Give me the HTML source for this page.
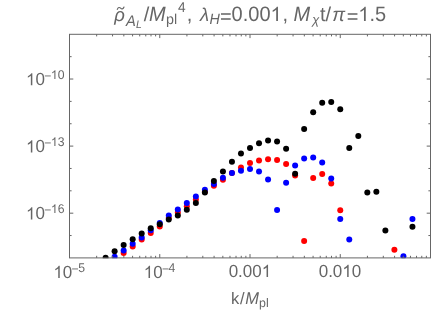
<!DOCTYPE html>
<html><head><meta charset="utf-8"><title>plot</title>
<style>
html,body{margin:0;padding:0;background:#fff;}
body{width:436px;height:312px;overflow:hidden;font-family:"Liberation Sans",sans-serif;}
svg{display:block;will-change:transform;}
svg text{font-family:"Liberation Sans",sans-serif;fill:#666666;text-rendering:geometricPrecision;}
</style></head><body>
<svg width="436" height="312" viewBox="0 0 436 312">
<rect width="436" height="312" fill="#ffffff"/>
<defs><clipPath id="cp"><rect x="69.50" y="34.30" width="361.00" height="223.90"/></clipPath></defs>
<g clip-path="url(#cp)">
<g fill="#ff0000"><circle cx="123.65" cy="253.10" r="3.00"/><circle cx="132.68" cy="246.60" r="3.00"/><circle cx="141.70" cy="239.60" r="3.00"/><circle cx="150.73" cy="232.90" r="3.00"/><circle cx="159.75" cy="226.50" r="3.00"/><circle cx="168.78" cy="217.90" r="3.00"/><circle cx="177.80" cy="212.40" r="3.00"/><circle cx="186.82" cy="206.30" r="3.00"/><circle cx="195.85" cy="199.50" r="3.00"/><circle cx="204.88" cy="191.70" r="3.00"/><circle cx="213.90" cy="185.70" r="3.00"/><circle cx="222.93" cy="179.70" r="3.00"/><circle cx="231.95" cy="172.90" r="3.00"/><circle cx="240.97" cy="167.50" r="3.00"/><circle cx="250.00" cy="163.00" r="3.00"/><circle cx="259.02" cy="160.60" r="3.00"/><circle cx="268.05" cy="159.20" r="3.00"/><circle cx="277.08" cy="160.00" r="3.00"/><circle cx="286.10" cy="164.00" r="3.00"/><circle cx="295.12" cy="175.50" r="3.00"/><circle cx="304.15" cy="240.90" r="3.00"/><circle cx="313.18" cy="177.90" r="3.00"/><circle cx="322.20" cy="174.00" r="3.00"/><circle cx="331.23" cy="183.50" r="3.00"/><circle cx="340.25" cy="210.20" r="3.00"/><circle cx="394.40" cy="249.70" r="3.00"/></g>
<g fill="#0000ff"><circle cx="114.62" cy="256.80" r="3.00"/><circle cx="123.65" cy="250.50" r="3.00"/><circle cx="132.68" cy="243.70" r="3.00"/><circle cx="141.70" cy="237.40" r="3.00"/><circle cx="150.73" cy="230.20" r="3.00"/><circle cx="159.75" cy="222.90" r="3.00"/><circle cx="168.78" cy="215.60" r="3.00"/><circle cx="177.80" cy="209.60" r="3.00"/><circle cx="186.82" cy="203.00" r="3.00"/><circle cx="195.85" cy="196.60" r="3.00"/><circle cx="204.88" cy="189.80" r="3.00"/><circle cx="213.90" cy="183.90" r="3.00"/><circle cx="222.93" cy="177.80" r="3.00"/><circle cx="231.95" cy="173.00" r="3.00"/><circle cx="240.97" cy="170.70" r="3.00"/><circle cx="250.00" cy="169.10" r="3.00"/><circle cx="259.02" cy="171.40" r="3.00"/><circle cx="268.05" cy="179.40" r="3.00"/><circle cx="277.08" cy="210.10" r="3.00"/><circle cx="286.10" cy="182.80" r="3.00"/><circle cx="295.12" cy="165.60" r="3.00"/><circle cx="304.15" cy="158.50" r="3.00"/><circle cx="313.18" cy="157.60" r="3.00"/><circle cx="322.20" cy="162.40" r="3.00"/><circle cx="331.23" cy="178.60" r="3.00"/><circle cx="340.25" cy="219.10" r="3.00"/><circle cx="349.28" cy="239.40" r="3.00"/><circle cx="403.43" cy="256.20" r="3.00"/><circle cx="412.45" cy="219.00" r="3.00"/></g>
<g fill="#000000"><circle cx="105.60" cy="257.80" r="3.00"/><circle cx="114.62" cy="251.30" r="3.00"/><circle cx="123.65" cy="244.90" r="3.00"/><circle cx="132.68" cy="239.30" r="3.00"/><circle cx="141.70" cy="233.50" r="3.00"/><circle cx="150.73" cy="228.20" r="3.00"/><circle cx="159.75" cy="224.20" r="3.00"/><circle cx="168.78" cy="219.50" r="3.00"/><circle cx="177.80" cy="215.60" r="3.00"/><circle cx="186.82" cy="209.70" r="3.00"/><circle cx="195.85" cy="203.00" r="3.00"/><circle cx="204.88" cy="192.60" r="3.00"/><circle cx="213.90" cy="181.00" r="3.00"/><circle cx="222.93" cy="171.40" r="3.00"/><circle cx="231.95" cy="161.80" r="3.00"/><circle cx="240.97" cy="153.60" r="3.00"/><circle cx="250.00" cy="147.90" r="3.00"/><circle cx="259.02" cy="143.20" r="3.00"/><circle cx="268.05" cy="140.60" r="3.00"/><circle cx="277.08" cy="141.50" r="3.00"/><circle cx="286.10" cy="148.70" r="3.00"/><circle cx="295.12" cy="173.70" r="3.00"/><circle cx="304.15" cy="129.10" r="3.00"/><circle cx="313.18" cy="112.30" r="3.00"/><circle cx="322.20" cy="102.70" r="3.00"/><circle cx="331.23" cy="102.00" r="3.00"/><circle cx="340.25" cy="109.20" r="3.00"/><circle cx="349.28" cy="148.10" r="3.00"/><circle cx="358.30" cy="135.90" r="3.00"/><circle cx="367.32" cy="192.40" r="3.00"/><circle cx="376.35" cy="191.80" r="3.00"/><circle cx="385.38" cy="230.40" r="3.00"/><circle cx="412.45" cy="226.70" r="3.00"/></g>
</g>
<g stroke="#666666" fill="none">
<path d="M96.67 257.90v-2.10 M96.67 34.30v2.10" stroke-width="1.00"/>
<path d="M112.56 257.90v-2.10 M112.56 34.30v2.10" stroke-width="1.00"/>
<path d="M123.84 257.90v-2.10 M123.84 34.30v2.10" stroke-width="1.00"/>
<path d="M132.58 257.90v-2.10 M132.58 34.30v2.10" stroke-width="1.00"/>
<path d="M139.73 257.90v-2.10 M139.73 34.30v2.10" stroke-width="1.00"/>
<path d="M145.77 257.90v-2.10 M145.77 34.30v2.10" stroke-width="1.00"/>
<path d="M151.00 257.90v-2.10 M151.00 34.30v2.10" stroke-width="1.00"/>
<path d="M155.62 257.90v-2.10 M155.62 34.30v2.10" stroke-width="1.00"/>
<path d="M159.75 257.90v-3.80 M159.75 34.30v3.80" stroke-width="1.00"/>
<path d="M186.92 257.90v-2.10 M186.92 34.30v2.10" stroke-width="1.00"/>
<path d="M202.81 257.90v-2.10 M202.81 34.30v2.10" stroke-width="1.00"/>
<path d="M214.09 257.90v-2.10 M214.09 34.30v2.10" stroke-width="1.00"/>
<path d="M222.83 257.90v-2.10 M222.83 34.30v2.10" stroke-width="1.00"/>
<path d="M229.98 257.90v-2.10 M229.98 34.30v2.10" stroke-width="1.00"/>
<path d="M236.02 257.90v-2.10 M236.02 34.30v2.10" stroke-width="1.00"/>
<path d="M241.25 257.90v-2.10 M241.25 34.30v2.10" stroke-width="1.00"/>
<path d="M245.87 257.90v-2.10 M245.87 34.30v2.10" stroke-width="1.00"/>
<path d="M250.00 257.90v-3.80 M250.00 34.30v3.80" stroke-width="1.00"/>
<path d="M277.17 257.90v-2.10 M277.17 34.30v2.10" stroke-width="1.00"/>
<path d="M293.06 257.90v-2.10 M293.06 34.30v2.10" stroke-width="1.00"/>
<path d="M304.34 257.90v-2.10 M304.34 34.30v2.10" stroke-width="1.00"/>
<path d="M313.08 257.90v-2.10 M313.08 34.30v2.10" stroke-width="1.00"/>
<path d="M320.23 257.90v-2.10 M320.23 34.30v2.10" stroke-width="1.00"/>
<path d="M326.27 257.90v-2.10 M326.27 34.30v2.10" stroke-width="1.00"/>
<path d="M331.50 257.90v-2.10 M331.50 34.30v2.10" stroke-width="1.00"/>
<path d="M336.12 257.90v-2.10 M336.12 34.30v2.10" stroke-width="1.00"/>
<path d="M340.25 257.90v-3.80 M340.25 34.30v3.80" stroke-width="1.00"/>
<path d="M367.42 257.90v-2.10 M367.42 34.30v2.10" stroke-width="1.00"/>
<path d="M383.31 257.90v-2.10 M383.31 34.30v2.10" stroke-width="1.00"/>
<path d="M394.59 257.90v-2.10 M394.59 34.30v2.10" stroke-width="1.00"/>
<path d="M403.33 257.90v-2.10 M403.33 34.30v2.10" stroke-width="1.00"/>
<path d="M410.48 257.90v-2.10 M410.48 34.30v2.10" stroke-width="1.00"/>
<path d="M416.52 257.90v-2.10 M416.52 34.30v2.10" stroke-width="1.00"/>
<path d="M421.75 257.90v-2.10 M421.75 34.30v2.10" stroke-width="1.00"/>
<path d="M426.37 257.90v-2.10 M426.37 34.30v2.10" stroke-width="1.00"/>
<path d="M69.50 235.54h2.10 M430.50 235.54h-2.10" stroke-width="1.00"/>
<path d="M69.50 213.18h3.80 M430.50 213.18h-3.80" stroke-width="1.00"/>
<path d="M69.50 190.82h2.10 M430.50 190.82h-2.10" stroke-width="1.00"/>
<path d="M69.50 168.46h2.10 M430.50 168.46h-2.10" stroke-width="1.00"/>
<path d="M69.50 146.10h3.80 M430.50 146.10h-3.80" stroke-width="1.00"/>
<path d="M69.50 123.74h2.10 M430.50 123.74h-2.10" stroke-width="1.00"/>
<path d="M69.50 101.38h2.10 M430.50 101.38h-2.10" stroke-width="1.00"/>
<path d="M69.50 79.02h3.80 M430.50 79.02h-3.80" stroke-width="1.00"/>
<path d="M69.50 56.66h2.10 M430.50 56.66h-2.10" stroke-width="1.00"/>
<rect x="69.50" y="34.30" width="361.00" height="223.60" stroke-width="1"/>
</g>
<g>
<path transform="translate(26.00 85.32) scale(0.00830 -0.00826)" d="M763 0H583V1147Q518 1085 412.5 1023T223 930V1104Q374 1175 487 1276T647 1472H763Z" fill="#666666"/><text transform="translate(35.45 85.32) scale(1 1.040)" font-size="17.00">0</text><text x="44.21" y="79.92" font-size="12.20">−</text><path transform="translate(50.88 78.92) scale(0.00596 -0.00593)" d="M763 0H583V1147Q518 1085 412.5 1023T223 930V1104Q374 1175 487 1276T647 1472H763Z" fill="#666666"/><text transform="translate(57.67 78.92) scale(1 1.040)" font-size="12.20">0</text>
<path transform="translate(26.00 152.40) scale(0.00830 -0.00826)" d="M763 0H583V1147Q518 1085 412.5 1023T223 930V1104Q374 1175 487 1276T647 1472H763Z" fill="#666666"/><text transform="translate(35.45 152.40) scale(1 1.040)" font-size="17.00">0</text><text x="44.21" y="147.00" font-size="12.20">−</text><path transform="translate(50.88 146.00) scale(0.00596 -0.00593)" d="M763 0H583V1147Q518 1085 412.5 1023T223 930V1104Q374 1175 487 1276T647 1472H763Z" fill="#666666"/><text transform="translate(57.67 146.00) scale(1 1.040)" font-size="12.20">3</text>
<path transform="translate(26.00 219.48) scale(0.00830 -0.00826)" d="M763 0H583V1147Q518 1085 412.5 1023T223 930V1104Q374 1175 487 1276T647 1472H763Z" fill="#666666"/><text transform="translate(35.45 219.48) scale(1 1.040)" font-size="17.00">0</text><text x="44.21" y="214.08" font-size="12.20">−</text><path transform="translate(50.88 213.08) scale(0.00596 -0.00593)" d="M763 0H583V1147Q518 1085 412.5 1023T223 930V1104Q374 1175 487 1276T647 1472H763Z" fill="#666666"/><text transform="translate(57.67 213.08) scale(1 1.040)" font-size="12.20">6</text>
<path transform="translate(53.40 278.00) scale(0.00830 -0.00826)" d="M763 0H583V1147Q518 1085 412.5 1023T223 930V1104Q374 1175 487 1276T647 1472H763Z" fill="#666666"/><text transform="translate(62.85 278.00) scale(1 1.040)" font-size="17.00">0</text><text x="71.61" y="272.50" font-size="12.20">−</text><text transform="translate(78.28 271.70) scale(1 1.040)" font-size="12.20">5</text>
<path transform="translate(143.70 278.00) scale(0.00830 -0.00826)" d="M763 0H583V1147Q518 1085 412.5 1023T223 930V1104Q374 1175 487 1276T647 1472H763Z" fill="#666666"/><text transform="translate(153.15 278.00) scale(1 1.040)" font-size="17.00">0</text><text x="161.91" y="272.50" font-size="12.20">−</text><text transform="translate(168.58 271.70) scale(1 1.040)" font-size="12.20">4</text>
<text transform="translate(228.63 276.90) scale(1 1.040)" font-size="17.00">0.00</text><path transform="translate(261.72 276.90) scale(0.00830 -0.00826)" d="M763 0H583V1147Q518 1085 412.5 1023T223 930V1104Q374 1175 487 1276T647 1472H763Z" fill="#666666"/>
<text transform="translate(318.68 276.90) scale(1 1.040)" font-size="17.00">0.0</text><path transform="translate(342.31 276.90) scale(0.00830 -0.00826)" d="M763 0H583V1147Q518 1085 412.5 1023T223 930V1104Q374 1175 487 1276T647 1472H763Z" fill="#666666"/><text transform="translate(351.77 276.90) scale(1 1.040)" font-size="17.00">0</text>
<text x="231.00" y="304.30" font-size="16.50">k</text><text x="240.00" y="304.30" font-size="16.50">/</text><text transform="translate(245.30 304.30) scale(1 1.040)" font-size="16.50" font-style="italic">M</text><text x="259.00" y="307.40" font-size="12.40">pl</text>
<text x="114.35" y="21.00" font-size="18.50" font-style="italic">ρ</text><path d="M117.3,9.4 C118.0,7.2 119.6,7.1 120.6,8.2 C121.6,9.3 123.2,9.3 124.0,7.0" fill="none" stroke="#666666" stroke-width="1.15" stroke-linecap="round"/><text transform="translate(126.00 25.50) scale(1 1.040)" font-size="14.70" font-style="italic">A</text><text transform="translate(135.90 28.30) scale(1 1.040)" font-size="10.40" font-style="italic">L</text><text x="143.70" y="21.00" font-size="20.00">/</text><text transform="translate(149.00 21.00) scale(1 1.040)" font-size="20.00" font-style="italic">M</text><text x="166.00" y="24.20" font-size="14.30">pl</text><text transform="translate(178.00 11.50) scale(1 1.040)" font-size="13.70">4</text><text x="186.80" y="21.00" font-size="20.00">,</text><text x="199.90" y="21.00" font-size="18.50" font-style="italic">λ</text><text transform="translate(209.40 24.20) scale(1 1.040)" font-size="14.30" font-style="italic">H</text><text x="220.10" y="22.90" font-size="20.00">=</text><text transform="translate(231.58 21.00) scale(1 1.040)" font-size="20.00">0.00</text><path transform="translate(270.51 21.00) scale(0.00977 -0.00972)" d="M763 0H583V1147Q518 1085 412.5 1023T223 930V1104Q374 1175 487 1276T647 1472H763Z" fill="#666666"/><text x="282.40" y="21.00" font-size="20.00">,</text><text transform="translate(293.40 21.00) scale(1 1.040)" font-size="20.00" font-style="italic">M</text><text x="312.30" y="24.40" font-size="12.80" font-style="italic">χ</text><text x="320.00" y="21.00" font-size="20.00">t/</text><text x="332.30" y="21.00" font-size="19.20" font-style="italic">π</text><text x="346.80" y="22.90" font-size="20.00">=</text><path transform="translate(358.28 21.00) scale(0.00977 -0.00972)" d="M763 0H583V1147Q518 1085 412.5 1023T223 930V1104Q374 1175 487 1276T647 1472H763Z" fill="#666666"/><text transform="translate(369.40 21.00) scale(1 1.040)" font-size="20.00">.5</text>
</g>
</svg>
</body></html>
